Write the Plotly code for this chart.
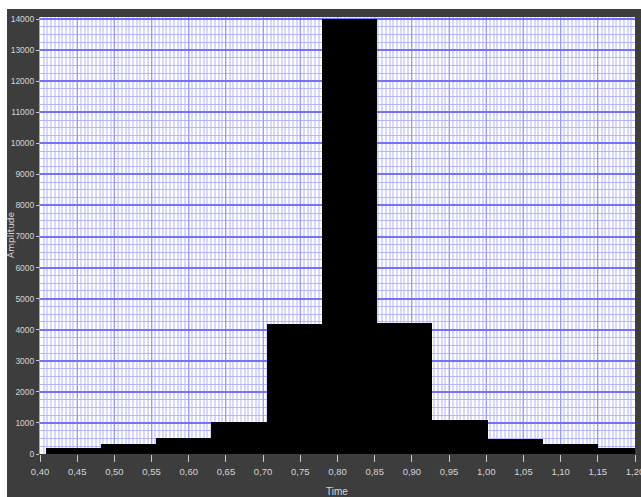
import plotly.graph_objects as go

# Histogram bins (left edge of each bin, common width) and counts
bin_left = [0.4075, 0.4818, 0.5561, 0.6304, 0.7047, 0.7790, 0.8533, 0.9276, 1.0019, 1.0762, 1.1505]
bin_width = 0.0743
counts = [193, 322, 516, 1015, 4190, 13985, 4225, 1105, 493, 322, 180]

x_tickvals = [0.40, 0.45, 0.50, 0.55, 0.60, 0.65, 0.70, 0.75, 0.80, 0.85, 0.90, 0.95,
              1.00, 1.05, 1.10, 1.15, 1.20]
x_ticktext = ["0,40", "0,45", "0,50", "0,55", "0,60", "0,65", "0,70", "0,75", "0,80",
              "0,85", "0,90", "0,95", "1,00", "1,05", "1,10", "1,15", "1,20"]
y_tickvals = list(range(0, 14001, 1000))
y_ticktext = [str(v) for v in y_tickvals]

centers = [b + bin_width / 2 for b in bin_left]

FRAME = "#3d3d3d"
LABEL = "#d4d4d4"
XTICKFONT = dict(family="Liberation Sans Narrow, Liberation Sans, sans-serif",
                 size=9.5, color=LABEL)
YTICKFONT = dict(family="Liberation Sans Narrow, Liberation Sans, sans-serif",
                 size=8.5, color=LABEL)

# plot area in pixels: x 40..635, y 17..454
PX_L, PX_R, PX_T, PX_B = 40, 635, 17, 454


def px_to_paper(px, py):
    return (px - PX_L) / (PX_R - PX_L), (PX_B - py) / (PX_B - PX_T)


fig = go.Figure(go.Bar(
    x=centers, y=counts, width=[bin_width] * len(counts),
    marker=dict(color="black", line=dict(width=0)),
    hoverinfo="x+y",
))

sx0, _ = px_to_paper(-5, 0)
sx1, _ = px_to_paper(7, 0)
_, sy0 = px_to_paper(0, 9)
_, sy1 = px_to_paper(0, -5)
_, sb = px_to_paper(0, 505)
tx, ty = px_to_paper(337, 491)
ax_, ay_ = px_to_paper(11, 235)

fig.update_layout(
    width=641, height=497,
    margin=dict(l=PX_L, r=641 - PX_R, t=PX_T, b=497 - PX_B),
    paper_bgcolor=FRAME,
    plot_bgcolor="white",
    showlegend=False,
    bargap=0,
    shapes=[
        # white strips around the dark frame
        dict(type="rect", xref="paper", yref="paper", layer="below",
             x0=sx0, x1=1.05, y0=sy0, y1=sy1,
             fillcolor="white", line=dict(width=0)),
        dict(type="rect", xref="paper", yref="paper", layer="below",
             x0=sx0, x1=sx1, y0=sb, y1=sy1,
             fillcolor="white", line=dict(width=0)),
    ],
    annotations=[
        dict(text="Time", xref="paper", yref="paper", x=tx, y=ty,
             xanchor="center", yanchor="middle", showarrow=False,
             font=dict(family="Liberation Sans, sans-serif", size=10, color=LABEL)),
        dict(text="Amplitude", xref="paper", yref="paper", x=ax_, y=ay_,
             xanchor="center", yanchor="middle", showarrow=False, textangle=-90,
             font=dict(family="DejaVu Sans, sans-serif", size=9, color=LABEL)),
    ],
)

fig.update_xaxes(
    range=[0.40, 1.20], automargin=False,
    tickmode="array", tickvals=x_tickvals, ticktext=x_ticktext,
    tickfont=XTICKFONT, ticklabeloverflow="allow", ticklabelstandoff=2,
    ticks="outside", ticklen=7, tickcolor="#c8c8c8", tickwidth=1,
    showgrid=True, gridcolor="#9a9aff", gridwidth=1,
    minor=dict(tick0=0.40, dtick=0.005, showgrid=True,
               gridcolor="#d8d8ff", gridwidth=2, ticks=""),
    zeroline=False, showline=False,
)

fig.update_yaxes(
    range=[0, 14065], automargin=False,
    tickmode="array", tickvals=y_tickvals, ticktext=y_ticktext,
    tickfont=YTICKFONT, ticklabeloverflow="allow",
    ticks="outside", ticklen=3, tickcolor="#c8c8c8", tickwidth=1,
    showgrid=True, gridcolor="#7272ff", gridwidth=2,
    minor=dict(tick0=0, dtick=250, showgrid=True,
               gridcolor="#b4b4ff", gridwidth=1, ticks=""),
    zeroline=False, showline=True, linecolor="#a8a8a8", linewidth=1,
)

fig.write_html("out.html")
